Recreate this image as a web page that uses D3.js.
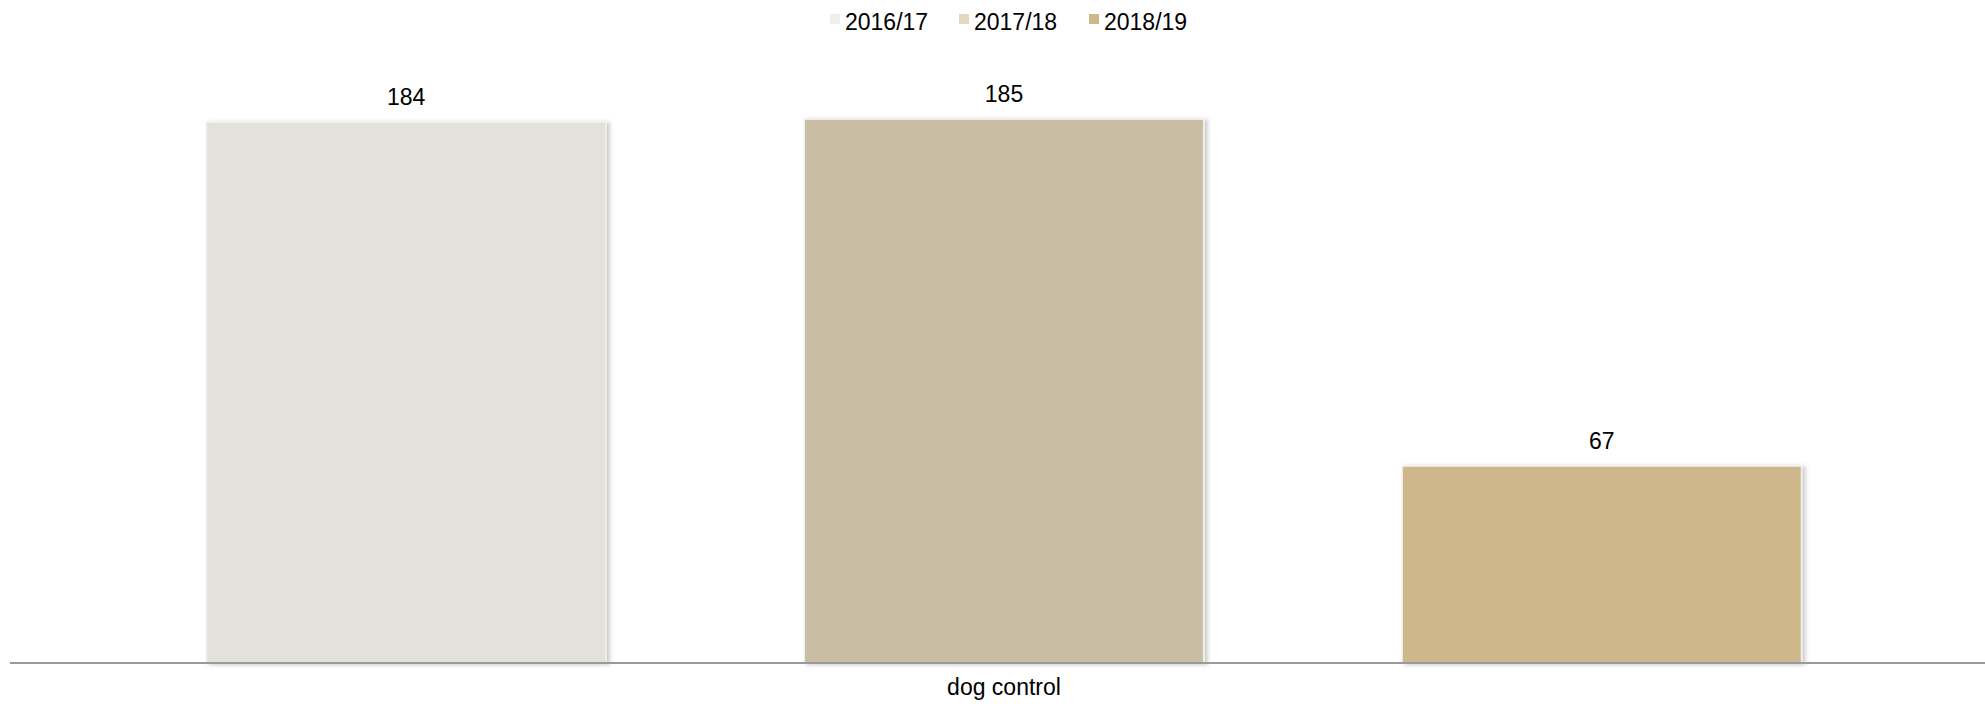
<!DOCTYPE html>
<html>
<head>
<meta charset="utf-8">
<script src="https://cdn.jsdelivr.net/npm/d3@7"></script>
<style>
  html, body { margin: 0; padding: 0; background: #ffffff; }
  svg { display: block; }
  text { font-family: "Liberation Sans", Arial, sans-serif; fill: #000; }
</style>
</head>
<body>
<script>
// ---- data ----
const categories = ["dog control"];
const seriesNames = ["2016/17", "2017/18", "2018/19"];
const values = [184, 185, 67];
const barColors = ["#E4E0DA", "#C9BDA3", "#CDB78B"];
const legendColors = ["#F2EFEA", "#E3D7C0", "#CDB78B"];

const W = 1985, H = 704;
const plotLeft = 8, plotRight = 2000;
const axisY = 663;

const svg = d3.select("body").append("svg")
  .attr("width", W).attr("height", H);

const defs = svg.append("defs");
const f = defs.append("filter").attr("id", "shadow")
  .attr("x", "-5%").attr("y", "-5%").attr("width", "115%").attr("height", "115%");
f.append("feDropShadow").attr("dx", 3).attr("dy", 1).attr("stdDeviation", 2)
  .attr("flood-color", "#000").attr("flood-opacity", 0.22);

const x0 = d3.scaleBand().domain(categories).range([plotLeft, plotRight]).padding(0);
const x1 = d3.scaleBand().domain(seriesNames).range([0, x0.bandwidth()])
  .paddingInner(0.332).paddingOuter(0.332);
const y = d3.scaleLinear().domain([0, 200]).range([axisY, axisY - 588]);

const g = svg.append("g");

categories.forEach(cat => {
  const grp = g.append("g").attr("transform", `translate(${x0(cat)},0)`);
  const data = seriesNames.map((s, i) => ({ s, v: values[i], c: barColors[i] }));
  grp.selectAll("rect.bar").data(data).enter().append("rect")
    .attr("class", "bar")
    .attr("x", d => x1(d.s))
    .attr("y", d => y(d.v))
    .attr("width", x1.bandwidth())
    .attr("height", d => y(0) - y(d.v))
    .attr("fill", d => d.c)
    .attr("stroke", "#f3f1ec")
    .attr("stroke-width", 1.5)
    .attr("filter", "url(#shadow)");
  grp.selectAll("text.lbl").data(data).enter().append("text")
    .attr("class", "lbl")
    .attr("x", d => x1(d.s) + x1.bandwidth() / 2)
    .attr("y", d => y(d.v) - 17)
    .attr("text-anchor", "middle")
    .attr("font-size", 23)
    .text(d => d.v);
});

// x axis
const xAxis = d3.axisBottom(x0).tickSize(0).tickPadding(16);
const ax = svg.append("g").attr("transform", `translate(0,${axisY})`).call(xAxis);
ax.select(".domain").attr("stroke", "#9a9a9a").attr("stroke-width", 2)
  .attr("d", `M10,0H${W}`);
ax.selectAll(".tick text")
  .attr("font-size", 23)
  .attr("font-family", "'Liberation Sans', Arial, sans-serif")
  .attr("fill", "#000");

// legend
const legendX = [830, 959, 1089];
const lg = svg.append("g");
seriesNames.forEach((s, i) => {
  const it = lg.append("g").attr("transform", `translate(${legendX[i]},0)`);
  it.append("rect").attr("x", 0).attr("y", 14).attr("width", 10).attr("height", 10)
    .attr("fill", legendColors[i]);
  it.append("text").attr("x", 15).attr("y", 30).attr("font-size", 23).text(s);
});
</script>
</body>
</html>
